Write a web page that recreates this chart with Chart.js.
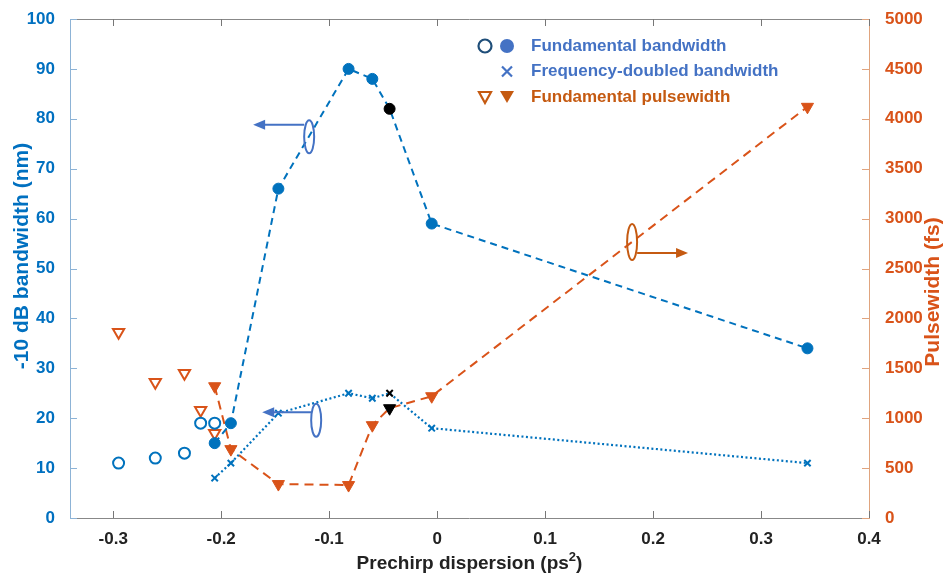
<!DOCTYPE html>
<html>
<head>
<meta charset="utf-8">
<script src="https://cdn.jsdelivr.net/npm/chart.js@4/dist/chart.umd.min.js"></script>
<style>
  body { margin: 0; background: #fff; }
  #wrap { width: 944px; height: 573px; }
</style>
</head>
<body>
<div id="wrap"><canvas id="myChart" width="944" height="573"></canvas></div>
<script>
// prechirp dispersion (ps^2), filled-marker runs
var disp = [-0.206, -0.191, -0.147, -0.082, -0.060, -0.044, -0.005, 0.343];
var bwFund = [15, 19, 66, 90, 88, 82, 59, 34];
var bwDoubled = [8, 11, 21, 25, 24, 25, 18, 11];
var pulseFund = [1320, 690, 340, 330, 930, 1100, 1220, 4120];
// open-marker runs
var dispOpen = [-0.295, -0.261, -0.234, -0.219, -0.206];
var bwOpen = [11, 12, 13, 19, 19];
var pulseOpen = [1860, 1360, 1450, 1080, 850];
var blackIndex = 5;

var xTicks = [-0.3, -0.2, -0.1, 0, 0.1, 0.2, 0.3, 0.4];

var BLUE = "#0072BD";
var ORANGE = "#D95319";
var LBLUE = "#4472C4";
var LORANGE = "#C55A11";
var FONT = "'Liberation Sans', Arial, sans-serif";

function pts(xs, ys) {
    var out = [];
    for (var i = 0; i < xs.length; i++)
        out.push({ x: xs[i], y: ys[i] });
    return out;
}

function colours(base) {
    var c = [];
    for (var i = 0; i < disp.length; i++)
        c.push(i == blackIndex ? "#000" : base);
    return c;
}

var ctx = document.getElementById("myChart").getContext("2d");

function ellipse(c, x, y, w, h, col) {
    c.beginPath();
    c.ellipse(x, y, w / 2, h / 2, 0, 0, 2 * Math.PI);
    c.strokeStyle = col;
    c.lineWidth = 2;
    c.stroke();
}

function arrow(c, x0, y0, x1, y1, col) {
    var dir = x1 > x0 ? 1 : -1;
    c.beginPath();
    c.moveTo(x0, y0);
    c.lineTo(x1 - dir * 9, y1);
    c.strokeStyle = col;
    c.lineWidth = 2;
    c.stroke();
    c.beginPath();
    c.moveTo(x1, y1);
    c.lineTo(x1 - dir * 12, y1 - 5);
    c.lineTo(x1 - dir * 12, y1 + 5);
    c.closePath();
    c.fillStyle = col;
    c.fill();
}

var frame = {
    id: "frame",
    beforeDatasetsDraw: function (chart) {
        var c = chart.ctx, a = chart.chartArea;
        var sx = chart.scales.x, sy = chart.scales.y, sy1 = chart.scales.y1;
        c.save();
        c.lineWidth = 1;
        // box
        c.strokeStyle = "#888";
        c.beginPath();
        c.moveTo(a.left, a.top + 0.5); c.lineTo(a.right, a.top + 0.5);
        c.moveTo(a.left, a.bottom + 0.5); c.lineTo(a.right, a.bottom + 0.5);
        c.stroke();
        c.strokeStyle = "#8DB3D6";
        c.beginPath(); c.moveTo(a.left + 0.5, a.top); c.lineTo(a.left + 0.5, a.bottom + 1); c.stroke();
        c.strokeStyle = "#E0A47E";
        c.beginPath(); c.moveTo(a.right + 0.5, a.top); c.lineTo(a.right + 0.5, a.bottom + 1); c.stroke();
        // inward ticks
        c.strokeStyle = "#777";
        c.beginPath();
        xTicks.forEach(function (v) {
            var px = Math.round(sx.getPixelForValue(v)) + 0.5;
            c.moveTo(px, a.bottom); c.lineTo(px, a.bottom - 7);
            c.moveTo(px, a.top); c.lineTo(px, a.top + 7);
        });
        c.stroke();
        c.strokeStyle = "#8DB3D6";
        c.beginPath();
        for (var v = 0; v <= 100; v += 10) {
            var py = Math.round(sy.getPixelForValue(v)) + 0.5;
            c.moveTo(a.left, py); c.lineTo(a.left + 7, py);
        }
        c.stroke();
        c.strokeStyle = "#E0A47E";
        c.beginPath();
        for (var w = 0; w <= 5000; w += 500) {
            var qy = Math.round(sy1.getPixelForValue(w)) + 0.5;
            c.moveTo(a.right, qy); c.lineTo(a.right - 7, qy);
        }
        c.stroke();
        c.restore();
    },
    afterDraw: function (chart) {
        var c = chart.ctx, a = chart.chartArea;
        var sx = chart.scales.x, sy = chart.scales.y, sy1 = chart.scales.y1;
        c.save();

        // axis titles
        c.font = "bold 21px " + FONT;
        c.textAlign = "center";
        c.textBaseline = "middle";
        c.fillStyle = "#0070C0";
        c.save();
        c.translate(22, 256);
        c.rotate(-Math.PI / 2);
        c.fillText("-10 dB bandwidth (nm)", 0, 0);
        c.restore();
        c.fillStyle = ORANGE;
        c.save();
        c.translate(933, 292);
        c.rotate(-Math.PI / 2);
        c.fillText("Pulsewidth (fs)", 0, 0);
        c.restore();

        // x title with superscript
        c.fillStyle = "#222";
        c.textAlign = "left";
        c.textBaseline = "alphabetic";
        var main = "Prechirp dispersion (ps", sup = "2", tail = ")";
        var fMain = "bold 19px " + FONT, fSup = "bold 13px " + FONT;
        c.font = fMain;
        var w1 = c.measureText(main).width, w3 = c.measureText(tail).width;
        c.font = fSup;
        var w2 = c.measureText(sup).width;
        var tx = (a.left + a.right) / 2 - (w1 + w2 + w3) / 2, by = 569;
        c.font = fMain;
        c.fillText(main, tx, by);
        c.font = fSup;
        c.fillText(sup, tx + w1, by - 8);
        c.font = fMain;
        c.fillText(tail, tx + w1 + w2, by);

        // ellipse-and-arrow markers pointing each curve at its axis
        var e1x = sx.getPixelForValue(-0.1185);
        ellipse(c, e1x, sy.getPixelForValue(76.4), 10, 33, LBLUE);
        arrow(c, e1x - 5, sy.getPixelForValue(78.8),
              sx.getPixelForValue(-0.1704), sy.getPixelForValue(78.8), LBLUE);
        var e2x = sx.getPixelForValue(-0.112);
        ellipse(c, e2x, sy.getPixelForValue(19.6), 10, 33, LBLUE);
        arrow(c, e2x - 5, sy.getPixelForValue(21.2),
              sx.getPixelForValue(-0.162), sy.getPixelForValue(21.2), LBLUE);
        var e3x = sx.getPixelForValue(0.1806);
        ellipse(c, e3x, sy1.getPixelForValue(2766), 10, 36, LORANGE);
        arrow(c, e3x + 5, sy1.getPixelForValue(2655),
              sx.getPixelForValue(0.2324), sy1.getPixelForValue(2655), LORANGE);

        // legend
        var lx = 485, ly = 46, dy = 25.5;
        c.lineWidth = 2.2;
        c.strokeStyle = "#1F4E79";
        c.beginPath(); c.arc(lx, ly, 6.5, 0, 2 * Math.PI); c.stroke();
        c.fillStyle = LBLUE;
        c.beginPath(); c.arc(lx + 22, ly, 7, 0, 2 * Math.PI); c.fill();
        c.strokeStyle = LBLUE;
        c.beginPath();
        c.moveTo(lx + 17, ly + dy - 5); c.lineTo(lx + 27, ly + dy + 5);
        c.moveTo(lx + 27, ly + dy - 5); c.lineTo(lx + 17, ly + dy + 5);
        c.stroke();
        var ty = ly + 2 * dy - 5;
        c.strokeStyle = LORANGE;
        c.beginPath(); c.moveTo(lx - 6, ty); c.lineTo(lx + 6, ty); c.lineTo(lx, ty + 11); c.closePath(); c.stroke();
        c.fillStyle = LORANGE;
        c.beginPath(); c.moveTo(lx + 15, ty - 1); c.lineTo(lx + 29, ty - 1); c.lineTo(lx + 22, ty + 11); c.closePath(); c.fill();

        c.font = "bold 17px " + FONT;
        c.textAlign = "left";
        c.textBaseline = "middle";
        c.fillStyle = LBLUE;
        c.fillText("Fundamental bandwidth", 531, ly);
        c.fillText("Frequency-doubled bandwidth", 531, ly + dy);
        c.fillStyle = LORANGE;
        c.fillText("Fundamental pulsewidth", 531, ly + 2 * dy);
        c.restore();
    }
};

var myChart = new Chart(ctx, {
    type: "scatter",
    data: {
        datasets: [
            {
                label: "Fundamental bandwidth",
                data: pts(disp, bwFund),
                yAxisID: "y",
                showLine: true,
                borderColor: BLUE,
                borderWidth: 2,
                borderDash: [7, 5],
                pointStyle: "circle",
                pointRadius: 5.5,
                pointBackgroundColor: colours(BLUE),
                pointBorderColor: colours(BLUE),
                pointBorderWidth: 1
            },
            {
                label: "Fundamental bandwidth (open)",
                data: pts(dispOpen, bwOpen),
                yAxisID: "y",
                showLine: false,
                pointStyle: "circle",
                pointRadius: 5.5,
                pointBackgroundColor: "rgba(0,0,0,0)",
                pointBorderColor: BLUE,
                pointBorderWidth: 2
            },
            {
                label: "Frequency-doubled bandwidth",
                data: pts(disp, bwDoubled),
                yAxisID: "y",
                showLine: true,
                borderColor: BLUE,
                borderWidth: 2.2,
                borderDash: [2, 2.5],
                pointStyle: "crossRot",
                pointRadius: 4.5,
                pointBorderColor: colours(BLUE),
                pointBorderWidth: 2
            },
            {
                label: "Fundamental pulsewidth",
                data: pts(disp, pulseFund),
                yAxisID: "y1",
                showLine: true,
                borderColor: ORANGE,
                borderWidth: 2,
                borderDash: [9, 6],
                pointStyle: "triangle",
                rotation: 180,
                pointRadius: 7,
                pointBackgroundColor: colours(ORANGE),
                pointBorderColor: colours(ORANGE),
                pointBorderWidth: 1
            },
            {
                label: "Fundamental pulsewidth (open)",
                data: pts(dispOpen, pulseOpen),
                yAxisID: "y1",
                showLine: false,
                pointStyle: "triangle",
                rotation: 180,
                pointRadius: 6.5,
                pointBackgroundColor: "rgba(0,0,0,0)",
                pointBorderColor: ORANGE,
                pointBorderWidth: 2
            }
        ]
    },
    options: {
        responsive: false,
        animation: false,
        layout: { padding: { top: 19, left: 0, right: 0, bottom: 0 } },
        plugins: {
            legend: { display: false },
            tooltip: { enabled: false }
        },
        scales: {
            x: {
                type: "linear",
                min: -0.34,
                max: 0.4,
                grid: { display: false },
                border: { display: false },
                afterBuildTicks: function (scale) {
                    scale.ticks = xTicks.map(function (v) { return { value: v }; });
                },
                afterFit: function (scale) { scale.height = 55; },
                ticks: {
                    padding: 3,
                    color: "#222",
                    font: { family: FONT, size: 17, weight: "bold" },
                    callback: function (v) { return v == 0 ? "0" : v.toFixed(1); }
                }
            },
            y: {
                position: "left",
                min: 0,
                max: 100,
                grid: { display: false },
                border: { display: false },
                afterFit: function (scale) { scale.width = 70; },
                ticks: {
                    stepSize: 10,
                    padding: 7,
                    color: "#0070C0",
                    font: { family: FONT, size: 17, weight: "bold" }
                }
            },
            y1: {
                position: "right",
                min: 0,
                max: 5000,
                grid: { display: false },
                border: { display: false },
                afterFit: function (scale) { scale.width = 75; },
                ticks: {
                    stepSize: 500,
                    padding: 8,
                    color: ORANGE,
                    font: { family: FONT, size: 17, weight: "bold" },
                    callback: function (v) { return String(v); }
                }
            }
        }
    },
    plugins: [frame]
});
</script>
</body>
</html>
